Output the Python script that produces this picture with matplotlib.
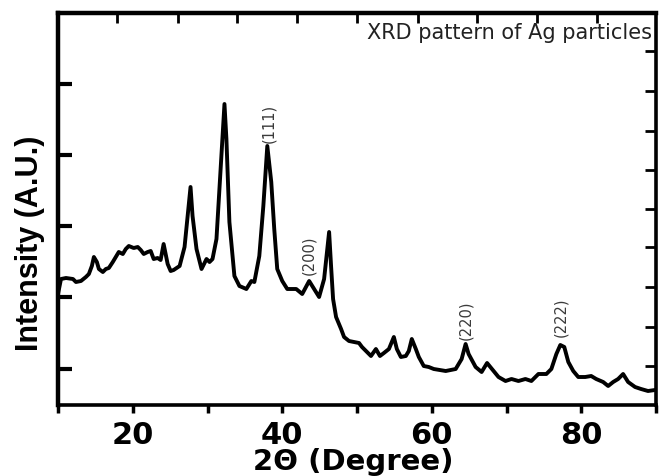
import matplotlib
matplotlib.use("Agg")
import matplotlib.pyplot as plt
from matplotlib.ticker import MultipleLocator, NullFormatter

# 2-theta (degree) and intensity (a.u.)
two_theta = [10.0, 10.4, 11.07, 12.0, 12.4, 13.07, 13.73, 14.13, 14.53, 14.8,
             15.2, 15.47, 16.0, 16.4, 16.8, 17.33, 17.73, 18.13, 18.67, 19.07,
             19.47, 20.13, 20.67, 21.07, 21.47, 22.0, 22.4, 22.8, 23.33, 23.73,
             24.13, 24.67, 25.07, 25.47, 26.27, 26.93, 27.33, 27.73, 28.0, 28.53,
             29.2, 29.87, 30.27, 30.67, 31.2, 31.6, 32.0, 32.27, 32.53, 32.93,
             33.6, 34.27, 35.2, 35.87, 36.27, 36.93, 37.47, 38.0, 38.53, 38.93,
             39.33, 40.0, 40.67, 41.87, 42.67, 43.6, 44.27, 44.93, 45.6, 46.27,
             46.53, 46.8, 47.2, 47.87, 48.27, 48.93, 49.6, 50.27, 50.67, 51.33,
             51.87, 52.53, 53.07, 53.6, 54.27, 54.93, 55.33, 55.87, 56.53, 56.93,
             57.33, 57.87, 58.27, 58.93, 59.6, 60.27, 61.87, 63.2, 64.0, 64.53,
             64.93, 65.87, 66.67, 67.4, 68.27, 68.93, 69.87, 70.67, 71.6, 72.53,
             73.33, 74.27, 75.33, 76.0, 76.67, 77.2, 77.73, 78.27, 78.93, 79.6,
             80.53, 81.33, 82.0, 82.93, 83.6, 84.27, 84.93, 85.6, 86.27, 87.2,
             88.0, 88.93, 89.87]
intensity = [111, 126, 127, 126, 123, 124, 128, 131, 139, 148,
             143, 136, 133, 136, 137, 143, 148, 153, 151, 156,
             159, 157, 158, 155, 151, 153, 154, 146, 147, 145,
             161, 141, 134, 135, 139, 158, 188, 218, 189, 156,
             136, 146, 143, 146, 166, 216, 266, 301, 266, 183,
             129, 119, 116, 124, 123, 149, 199, 259, 223, 176,
             136, 124, 116, 116, 111, 124, 116, 108, 126, 173,
             139, 106, 88, 76, 68, 64, 63, 62, 58, 53,
             49, 56, 49, 52, 56, 68, 56, 48, 49, 54,
             66, 56, 48, 39, 38, 36, 34, 36, 46, 61,
             51, 38, 33, 42, 34, 28, 24, 26, 24, 26,
             24, 31, 31, 36, 51, 60, 58, 43, 34, 28,
             28, 29, 26, 23, 19, 23, 26, 31, 23, 18,
             16, 14, 15]

# Miller index annotations: label, 2-theta, intensity (a.u.) of label centre
hkl_labels = ["(111)", "(200)", "(220)", "(222)"]
hkl_x = [38.2, 43.6, 64.5, 77.3]
hkl_y = [283, 151, 86, 89]

x_ticks = [20, 40, 60, 80]
left_ticks = [36, 108, 179, 250, 321]
right_ticks = [39, 78, 118, 158, 196, 235, 274, 314, 354]
top_ticks = [17.9, 26, 34, 42, 50, 58.1, 66.1, 74.1, 82.1]

fig = plt.figure(figsize=(6.6, 4.77), dpi=100)
ax = fig.add_axes([58/660, 71/477, 598/660, 392/477])

ax.plot(two_theta, intensity, color="black", lw=2.8, solid_joinstyle="round")
ax.set_xlim(10, 90)
ax.set_ylim(0, 392)

for s in ["left", "top"]:
    ax.spines[s].set_linewidth(3.2)
for s in ["bottom", "right"]:
    ax.spines[s].set_linewidth(2.6)

ax.set_xticks(x_ticks)
ax.xaxis.set_minor_locator(MultipleLocator(10))
ax.tick_params(axis="x", which="both", direction="out", length=6, width=2.5,
               pad=5, labelsize=22, top=False)
for lab in ax.get_xticklabels():
    lab.set_fontweight("bold")
ax.set_yticks(left_ticks)
ax.yaxis.set_major_formatter(NullFormatter())
ax.tick_params(axis="y", which="major", direction="in", length=10, width=3,
               right=False)

# top axis ticks
axt = ax.secondary_xaxis("top")
axt.set_xticks(top_ticks)
axt.xaxis.set_major_formatter(NullFormatter())
axt.tick_params(direction="in", length=7, width=2)
axt.spines["top"].set_visible(False)

# right axis ticks
axr = ax.secondary_yaxis("right")
axr.set_yticks(right_ticks)
axr.yaxis.set_major_formatter(NullFormatter())
axr.tick_params(direction="in", length=8, width=2)
axr.spines["right"].set_visible(False)

for lab, xx, yy in zip(hkl_labels, hkl_x, hkl_y):
    ax.text(xx, yy, lab, rotation=90, ha="center", va="center",
            fontsize=10.5, color="#3a3a3a", family=["DejaVu Sans"])

fig.text(652/660, 1 - 33/477, "XRD pattern of Ag particles", ha="right",
         va="center", fontsize=15, color="#222222", family=["DejaVu Sans"])

fig.text(30/660, 1 - 243/477, "Intensity (A.U.)", rotation=90, ha="center",
         va="center", fontsize=22, fontweight="bold",
         family=["Liberation Sans", "DejaVu Sans"])

fig.text(353/660, 1 - 470/477, "2\u0398 (Degree)", ha="center", va="baseline",
         fontsize=21, fontweight="bold", family=["DejaVu Sans"])

fig.savefig("out.png", dpi=100)
